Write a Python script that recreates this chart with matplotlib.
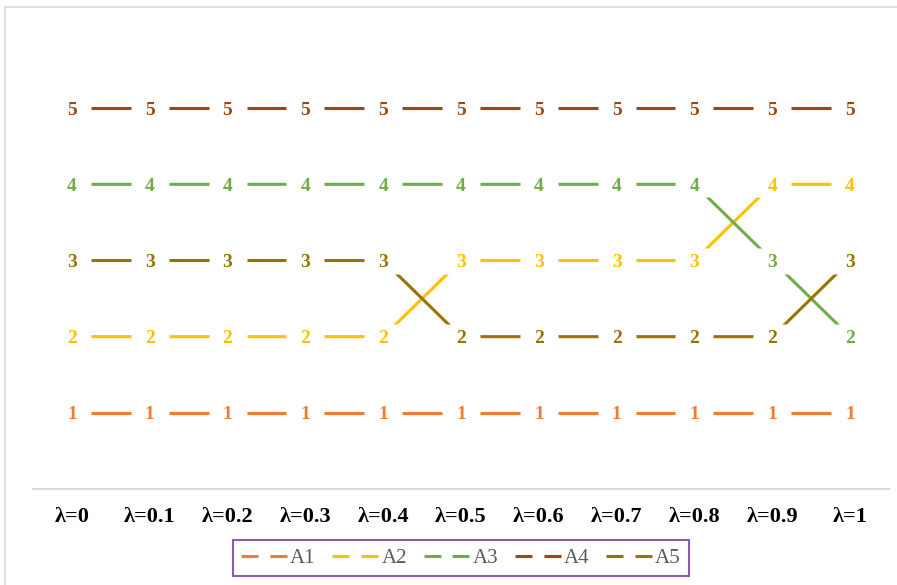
import matplotlib
matplotlib.use("Agg")
import matplotlib.pyplot as plt
from matplotlib.lines import Line2D
from matplotlib.patches import Rectangle
from matplotlib.path import Path
from matplotlib.legend_handler import HandlerBase

categories = ["λ=0", "λ=0.1", "λ=0.2", "λ=0.3", "λ=0.4", "λ=0.5",
              "λ=0.6", "λ=0.7", "λ=0.8", "λ=0.9", "λ=1"]
series_names = ["A1", "A2", "A3", "A4", "A5"]
A1 = [1, 1, 1, 1, 1, 1, 1, 1, 1, 1, 1]
A2 = [2, 2, 2, 2, 2, 3, 3, 3, 3, 4, 4]
A3 = [4, 4, 4, 4, 4, 4, 4, 4, 4, 3, 2]
A4 = [5, 5, 5, 5, 5, 5, 5, 5, 5, 5, 5]
A5 = [3, 3, 3, 3, 3, 2, 2, 2, 2, 2, 3]
colors = ["#ED7D31", "#FFC000", "#70AD47", "#9E480E", "#997300"]

data = [A1, A2, A3, A4, A5]
x = list(range(len(categories)))


class TwoDashHandler(HandlerBase):
    """Excel-like legend sample: a line with a gap in the middle."""
    def create_artists(self, legend, orig_handle, xdescent, ydescent,
                       width, height, fontsize, trans):
        y = height / 2 - ydescent
        seg = width * 0.37
        x0 = -xdescent
        arts = []
        for a, b in ((x0, x0 + seg), (x0 + width - seg, x0 + width)):
            ln = Line2D([a, b], [y, y], color=orig_handle.get_color(),
                        linewidth=orig_handle.get_linewidth(),
                        solid_capstyle="butt")
            ln.set_transform(trans)
            arts.append(ln)
        return arts


W, H = 897, 585
fig = plt.figure(figsize=(W / 100, H / 100), dpi=100)
# outer chart border
fig.patches.append(Rectangle((5 / W, -0.05), 1.1, (H - 7) / H + 0.05,
                             transform=fig.transFigure, fill=False,
                             edgecolor="#D9D9D9", linewidth=1.2, zorder=0))

ax = fig.add_axes([33 / W, (H - 489) / H, (889 - 33) / W, (489 - 32) / H])
ax.set_xlim(-0.5, len(categories) - 0.5)
ax.set_ylim(0, 6)

# label background box marker (covers line near each label)
box = Path([(-19, -13), (19, -13), (19, 13), (-19, 13), (-19, -13)],
           [Path.MOVETO, Path.LINETO, Path.LINETO, Path.LINETO, Path.CLOSEPOLY])

for vals, col in zip(data, colors):
    ax.plot(x, vals, color=col, linewidth=2.2, solid_capstyle="butt", zorder=2)
for vals in data:
    ax.plot(x, vals, linestyle="none", marker=box, markersize=38 * 0.72,
            markerfacecolor="white", markeredgecolor="none", zorder=3)
for vals, col in zip(data, colors):
    for xi, v in zip(x, vals):
        ax.text(xi, v, str(v), color=col, ha="center", va="center_baseline",
                fontsize=14, fontweight="bold", family="Liberation Serif",
                zorder=4)

ax.set_xticks(x)
ax.set_xticklabels(categories, fontsize=16, fontweight="bold",
                   family="Liberation Serif", color="black")
ax.tick_params(axis="x", length=0, pad=13)
ax.set_yticks([])
for s in ["top", "right", "left"]:
    ax.spines[s].set_visible(False)
ax.spines["bottom"].set_color("#D9D9D9")
ax.spines["bottom"].set_linewidth(1.5)

handles = [Line2D([0], [0], color=c, linewidth=2.2) for c in colors]
leg = fig.legend(handles, series_names, loc="center",
                 bbox_to_anchor=(461 / W, (H - 558) / H), ncol=5,
                 prop={"family": "Liberation Serif", "size": 15},
                 frameon=True, fancybox=False, handlelength=2.2,
                 handletextpad=0.15, columnspacing=0.8,
                 borderpad=0.38, borderaxespad=0,
                 handler_map={Line2D: TwoDashHandler()})
for t in leg.get_texts():
    t.set_color("#595959")
leg.get_frame().set_edgecolor("#7030A0")
leg.get_frame().set_linewidth(1.5)

fig.savefig("out.png", dpi=100, facecolor="white")
